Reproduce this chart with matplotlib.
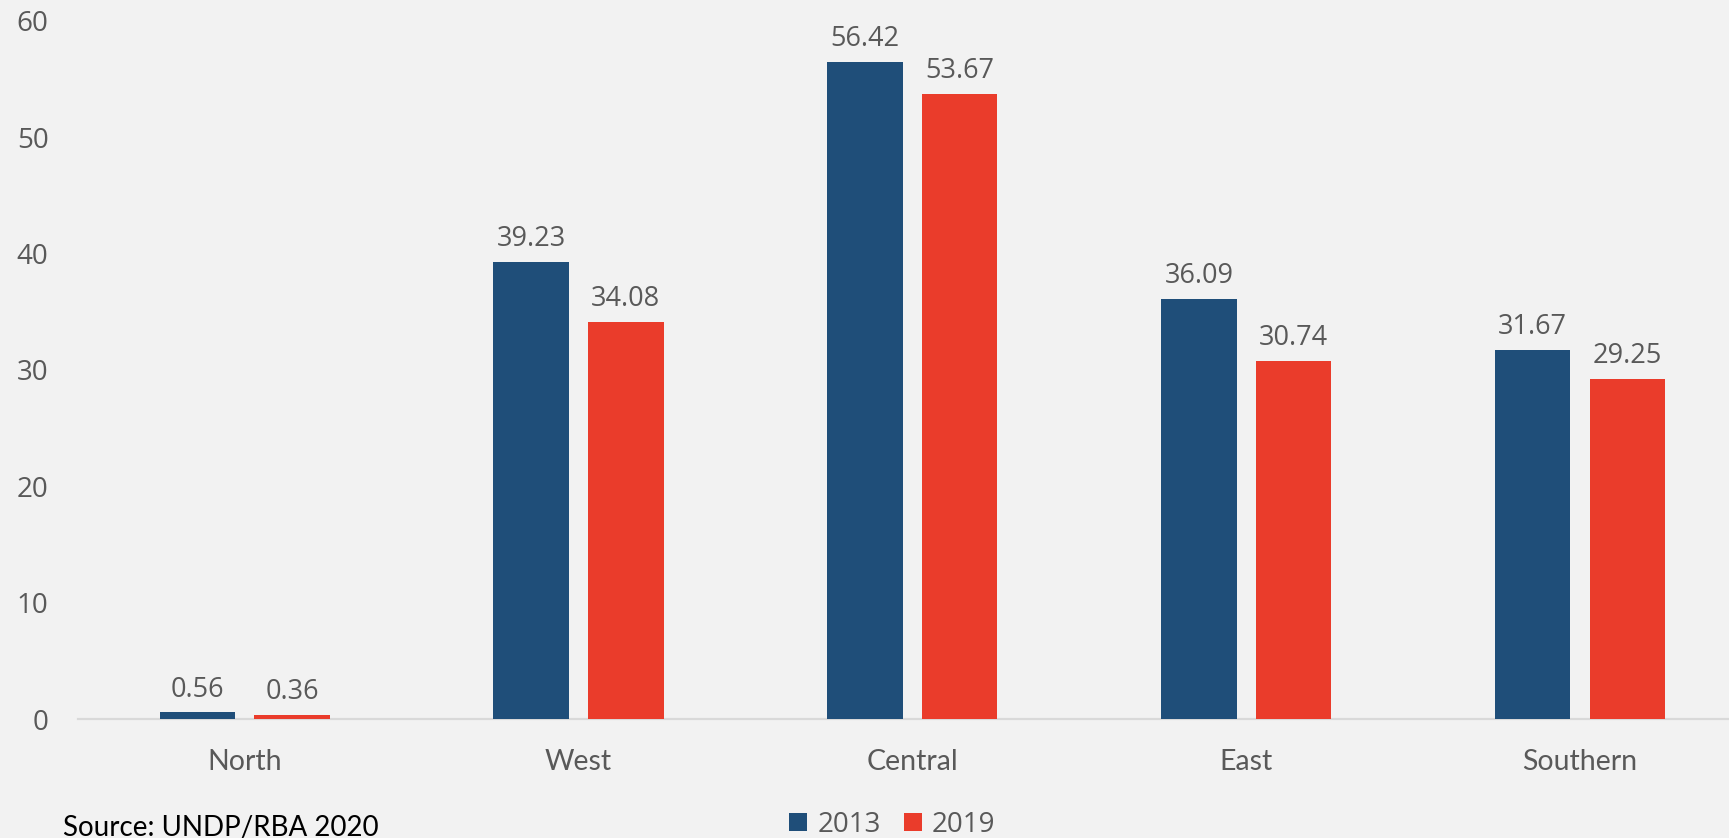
import matplotlib
matplotlib.use("Agg")
import matplotlib.pyplot as plt
from matplotlib.patches import Patch
import numpy as np

# Data
regions = ["North", "West", "Central", "East", "Southern"]
years = ["2013", "2019"]
values_2013 = [0.56, 39.23, 56.42, 36.09, 31.67]
values_2019 = [0.36, 34.08, 53.67, 30.74, 29.25]
y_ticks = [0, 10, 20, 30, 40, 50, 60]
source_text = "Source: UNDP/RBA 2020"

# Style
BG = "#F2F2F2"
BLUE = "#1F4E79"
RED = "#EA3C2B"
GREY_TEXT = "#595959"
AXIS_LINE = "#D9D9D9"

W, H, DPI = 1729, 838, 100
fig = plt.figure(figsize=(W / DPI, H / DPI), dpi=DPI, facecolor=BG)

# axes in pixel terms: x from 77.7 to 1747, y zero at 719, 60 at 20.6
left = 77.7 / W
width = (1747 - 77.7) / W
bottom = 1 - 719 / H
height = (719 - 20.6) / H
ax = fig.add_axes([left, bottom, width, height], facecolor=BG)

x = np.arange(len(regions))
bar_w = 0.226
offset = 0.1417

bars_a = ax.bar(x - offset, values_2013, width=bar_w, color=BLUE, zorder=3)
bars_b = ax.bar(x + offset, values_2019, width=bar_w, color=RED, zorder=3)

label_font = dict(family="Open Sans", size=19.5, color=GREY_TEXT)
for bars, vals in ((bars_a, values_2013), (bars_b, values_2019)):
    for rect, v in zip(bars, vals):
        ax.annotate(f"{v:.2f}", xy=(rect.get_x() + rect.get_width() / 2, v),
                    xytext=(0, 11.5), textcoords="offset points",
                    ha="center", va="baseline", **label_font)

ax.set_xlim(-0.5, len(regions) - 0.5)
ax.set_ylim(0, 60)
ax.set_yticks(y_ticks)
ax.set_yticklabels([str(t) for t in y_ticks], family="Open Sans", fontsize=20,
                   color=GREY_TEXT)
ax.set_xticks(x)
ax.set_xticklabels(regions, family="Lato", fontsize=20.5, color=GREY_TEXT)
ax.tick_params(axis="y", length=0, pad=21)
ax.tick_params(axis="x", length=0, pad=21.5)

for side in ("top", "right", "left"):
    ax.spines[side].set_visible(False)
ax.spines["bottom"].set_color(AXIS_LINE)
ax.spines["bottom"].set_linewidth(1.6)
ax.spines["bottom"].set_zorder(2)

handles = [Patch(facecolor=BLUE, label=years[0]), Patch(facecolor=RED, label=years[1])]
fig.legend(handles=handles, loc="center", bbox_to_anchor=(0.516, 0.0157),
           ncol=2, frameon=False, prop=dict(family="Open Sans", size=20),
           labelcolor=GREY_TEXT, handlelength=0.65, handleheight=0.65,
           handletextpad=0.36, columnspacing=0.83, borderpad=0, borderaxespad=0)

fig.text(63 / W, 1 - 836 / H, source_text, family="Lato", fontsize=20,
         color="black", ha="left", va="baseline")

fig.savefig("out.png", dpi=DPI, facecolor=BG)
